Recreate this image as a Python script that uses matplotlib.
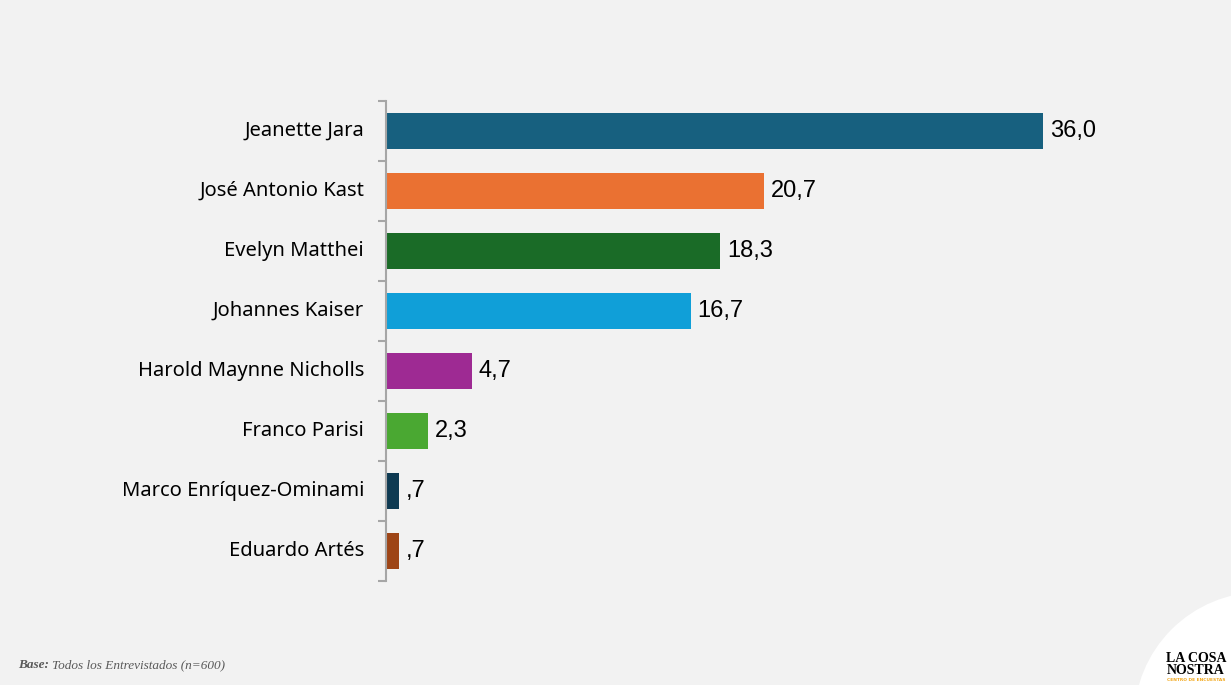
import numpy as np
import matplotlib.pyplot as plt
from matplotlib.patches import Circle

candidatos = ["Jeanette Jara", "José Antonio Kast", "Evelyn Matthei", "Johannes Kaiser",
              "Harold Maynne Nicholls", "Franco Parisi", "Marco Enríquez-Ominami", "Eduardo Artés"]
valores = [36.0, 20.7, 18.3, 16.7, 4.7, 2.3, 0.7, 0.7]
etiquetas = ["36,0", "20,7", "18,3", "16,7", "4,7", "2,3", ",7", ",7"]
colores = ["#17607f", "#ea7132", "#1a6b27", "#109fd8", "#9e2a93", "#4aa832", "#0e3a52", "#9e4516"]

bg = "#f2f2f2"
fig = plt.figure(figsize=(12.31, 6.85), dpi=100, facecolor=bg)
ax = fig.add_axes([386/1231, 104/685, 821/1231, 480/685], facecolor=bg)

y = np.arange(len(candidatos))
ax.barh(y, valores, height=0.6, color=colores)
ax.set_ylim(len(candidatos) - 0.5, -0.5)
ax.set_xlim(0, 45)

for yi, v, t in zip(y, valores, etiquetas):
    ax.annotate(t, (v, yi), xytext=(5, 0), textcoords="offset points",
                va="center", ha="left", fontsize=17, family="Liberation Sans", color="black")

# category labels
for yi, name in zip(y, candidatos):
    ax.text(-1.2, yi, name, ha="right", va="center", fontsize=14.5, family="Noto Sans",
            color="black")

ax.set_yticks(np.arange(-0.5, len(candidatos) + 0.5, 1))
ax.set_yticklabels([])
ax.tick_params(axis="y", length=6, color="#a6a6a6", width=1.5)
ax.set_xticks([])
for s in ["top", "right", "bottom"]:
    ax.spines[s].set_visible(False)
ax.spines["left"].set_color("#a6a6a6")
ax.spines["left"].set_linewidth(1.5)

# footer
fig.text(18/1231, 1 - 665/685, "Base:", fontsize=9.5, family="Liberation Serif",
         style="italic", weight="bold", color="#595959", va="center")
fig.text(52/1231, 1 - 665/685, "Todos los Entrevistados (n=600)", fontsize=9.5,
         family="Liberation Serif", style="italic", color="#595959", va="center")

# logo (display coords, origin bottom-left)
circ = Circle((1262, -35), 128, transform=None, facecolor="white", edgecolor="none")
fig.patches.append(circ)
fig.text(1196/1231, 1 - 659/685, "LA COSA", fontsize=10, family="Liberation Serif",
         weight="bold", ha="center", va="center", color="black")
fig.text(1196/1231, 1 - 671/685, "NOSTRA", fontsize=10, family="Liberation Serif",
         weight="bold", ha="center", va="center", color="black")
fig.text(1196/1231, 1 - 680/685, "CENTRO DE ENCUESTAS", fontsize=3.2, family="DejaVu Sans",
         weight="bold", ha="center", va="center", color="#f2a81d")

fig.savefig("out.png", dpi=100, facecolor=bg)
